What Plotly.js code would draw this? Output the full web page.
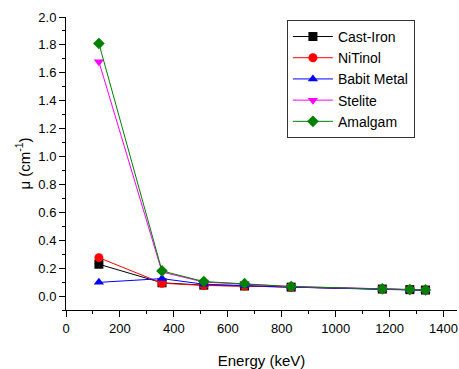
<!DOCTYPE html>
<html><head><meta charset="utf-8">
<script src="https://cdn.plot.ly/plotly-3.0.1.min.js"></script>
<style>html,body{margin:0;padding:0;background:#fff}</style>
</head><body><div id="chart" style="width:459px;height:369px"></div>
<script>
var energy = [122, 356, 511, 662, 835, 1173, 1275, 1333];
var castIron = [0.228, 0.095, 0.078, 0.072, 0.064, 0.050, 0.046, 0.043];
var niTinol = [0.275, 0.092, 0.076, 0.072, 0.065, 0.050, 0.046, 0.043];
var babitMetal = [0.098, 0.125, 0.085, 0.074, 0.064, 0.048, 0.044, 0.041];
var stelite = [1.68, 0.172, 0.100, 0.087, 0.068, 0.052, 0.047, 0.044];
var amalgam = [1.81, 0.180, 0.104, 0.089, 0.068, 0.051, 0.047, 0.044];
var names = ["Cast-Iron", "NiTinol", "Babit Metal", "Stelite", "Amalgam"];
var series = [castIron, niTinol, babitMetal, stelite, amalgam];
var colors = ["#000000", "#ff0000", "#0000ff", "#ff00ff", "#008000"];
var symbols = ["square", "circle", "triangle-up", "triangle-down", "diamond"];
var traces = series.map(function(s, i){
  return {x: energy, y: s, name: names[i], type: "scatter", mode: "lines+markers",
    line: {color: colors[i], width: 1},
    marker: {color: colors[i], symbol: symbols[i], size: 9}};
});
var font = "Arial, 'Liberation Sans', sans-serif";
var layout = {
  width: 459, height: 369,
  margin: {l: 66, r: 2, t: 17, b: 59},
  paper_bgcolor: "#fff", plot_bgcolor: "#fff",
  font: {family: font, size: 13, color: "#000"},
  showlegend: true,
  legend: {x: 0.565, y: 0.99, xanchor: "left", yanchor: "top", bordercolor: "#333", borderwidth: 1,
    bgcolor: "#fff", font: {family: font, size: 14, color: "#000"}, tracegroupgap: 0, itemwidth: 40},
  xaxis: {range: [0, 1450], tick0: 0, dtick: 200, showgrid: false, zeroline: false,
    showline: true, linecolor: "#000", linewidth: 1, ticks: "outside", ticklen: 6, tickcolor: "#000",
    minor: {dtick: 100, ticks: "outside", ticklen: 3, tickcolor: "#000", showgrid: false},
    tickfont: {family: font, size: 13, color: "#000"},
    title: {text: "Energy (keV)", font: {family: font, size: 15, color: "#000"}, standoff: 22}},
  yaxis: {range: [-0.1, 2.0], tick0: 0, dtick: 0.2, tickformat: ".1f", showgrid: false, zeroline: false,
    showline: true, linecolor: "#000", linewidth: 1, ticks: "outside", ticklen: 6, tickcolor: "#000",
    minor: {dtick: 0.1, ticks: "outside", ticklen: 3, tickcolor: "#000", showgrid: false},
    tickfont: {family: font, size: 13, color: "#000"},
    title: {text: "μ (cm<sup>-1</sup>)", font: {family: font, size: 15, color: "#000"}, standoff: 4}}
};
Plotly.newPlot("chart", traces, layout, {displayModeBar: false, staticPlot: true});
</script></body></html>
